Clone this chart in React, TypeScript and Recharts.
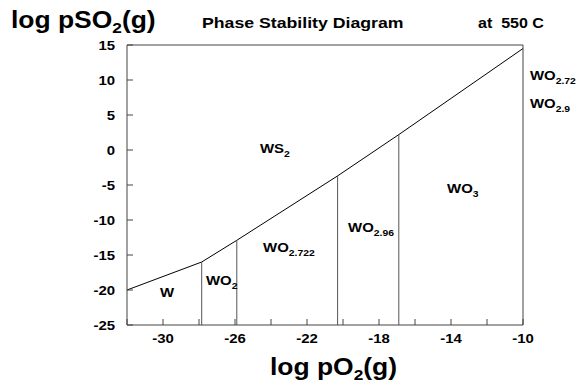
import React from 'react'
import { ComposedChart, Line, Scatter, XAxis, YAxis } from 'recharts'

const xMinorTicks = [-32, -30, -28, -26, -24, -22, -20, -18, -16, -14, -12, -10]
const xLabelTicks = [-30, -26, -22, -18, -14, -10]
const yTicks = [-25, -20, -15, -10, -5, 0, 5, 10, 15]

// WS2 / oxide boundary, the vertical oxide boundaries hang off the inner points
const boundaryX = [-32, -27.85, -25.9, -20.3, -16.9, -10]
const boundaryY = [-20, -16, -12.9, -3.7, 2.2, 14.5]

const fieldNames = ['W', 'WO', 'WO', 'WS', 'WO', 'WO']
const fieldSubs = ['', '2', '2.722', '2', '2.96', '3']
const fieldX = [-30.17, -27.61, -24.44, -24.61, -19.72, -14.22]
const fieldY = [-21.0, -19.29, -14.57, -0.43, -11.71, -6.14]

const sideNames = ['WO', 'WO']
const sideSubs = ['2.72', '2.9']
const sideY = [10, 6]

const FONT = "'Liberation Sans', Arial, Helvetica, sans-serif"
const AXIS = '#444'

const boundary = boundaryX.map((x, i) => ({ x, y: boundaryY[i] }))
const verticals = boundaryX.slice(1, -1).map((x, i) => [
  { x, y: -25 },
  { x, y: boundaryY[i + 1] },
])
const fields = fieldNames.map((name, i) => ({ x: fieldX[i], y: fieldY[i], name, sub: fieldSubs[i] }))
const sides = sideNames.map((name, i) => ({ x: -10, y: sideY[i], name, sub: sideSubs[i] }))

function Chem({ x, y, name, sub }: any) {
  return (
    <text
      transform={`translate(${x},${y}) scale(1.15,1)`}
      fontSize={13}
      fontWeight="bold"
      fontFamily={FONT}
      fill="#000"
    >
      {name}
      {sub && (
        <tspan fontSize={9} dy={4}>
          {sub}
        </tspan>
      )}
    </text>
  )
}

function BottomTick({ x, y, payload }: any) {
  const v = payload.value
  return (
    <g>
      <line x1={x} y1={y} x2={x} y2={y - 6} stroke={AXIS} />
      {xLabelTicks.includes(v) && (
        <text
          transform={`translate(${x},${y + 18}) scale(1.15,1)`}
          textAnchor="middle"
          fontSize={13}
          fontWeight="bold"
          fontFamily={FONT}
          fill="#000"
        >
          {v}
        </text>
      )}
    </g>
  )
}

function TopTick({ x, y }: any) {
  return <line x1={x} y1={y} x2={x} y2={y + 6} stroke={AXIS} />
}

function LeftTick({ x, y, payload }: any) {
  return (
    <g>
      <line x1={x} y1={y} x2={x + 6} y2={y} stroke={AXIS} />
      <text
        transform={`translate(${x - 12},${y + 4.5}) scale(1.15,1)`}
        textAnchor="end"
        fontSize={13}
        fontWeight="bold"
        fontFamily={FONT}
        fill="#000"
      >
        {payload.value}
      </text>
    </g>
  )
}

function RightTick({ x, y }: any) {
  return <line x1={x} y1={y} x2={x - 6} y2={y} stroke={AXIS} />
}

export default function App() {
  return (
    <div style={{ position: 'absolute', left: 0, top: 0, width: 577, height: 388 }}>
      <ComposedChart
        width={577}
        height={388}
        margin={{ top: 35, right: 34, bottom: 33, left: 87 }}
      >
        <XAxis
          xAxisId="b"
          type="number"
          dataKey="x"
          domain={[-32, -10]}
          ticks={xMinorTicks}
          interval={0}
          height={30}
          tickSize={0}
          tickMargin={0}
          tickLine={false}
          axisLine={{ stroke: AXIS }}
          tick={<BottomTick />}
        />
        <XAxis
          xAxisId="t"
          orientation="top"
          type="number"
          dataKey="x"
          domain={[-32, -10]}
          ticks={xMinorTicks}
          interval={0}
          height={10}
          tickSize={0}
          tickMargin={0}
          tickLine={false}
          axisLine={{ stroke: AXIS }}
          tick={<TopTick />}
        />
        <YAxis
          yAxisId="l"
          type="number"
          domain={[-25, 15]}
          ticks={yTicks}
          interval={0}
          width={40}
          tickSize={0}
          tickMargin={0}
          tickLine={false}
          axisLine={{ stroke: AXIS }}
          tick={<LeftTick />}
        />
        <YAxis
          yAxisId="r"
          orientation="right"
          type="number"
          domain={[-25, 15]}
          ticks={yTicks}
          interval={0}
          width={20}
          tickSize={0}
          tickMargin={0}
          tickLine={false}
          axisLine={{ stroke: AXIS }}
          tick={<RightTick />}
        />
        <Line
          xAxisId="b"
          yAxisId="l"
          data={boundary}
          dataKey="y"
          type="linear"
          stroke="#000"
          strokeWidth={1}
          dot={false}
          isAnimationActive={false}
        />
        {verticals.map((seg, i) => (
          <Line
            key={i}
            xAxisId="b"
            yAxisId="l"
            data={seg}
            dataKey="y"
            type="linear"
            stroke="#555"
            strokeWidth={1}
            dot={false}
            isAnimationActive={false}
          />
        ))}
        <Scatter
          xAxisId="b"
          yAxisId="l"
          data={fields}
          dataKey="y"
          isAnimationActive={false}
          shape={(p: any) => <Chem x={p.cx} y={p.cy} name={p.payload.name} sub={p.payload.sub} />}
        />
        <Scatter
          xAxisId="b"
          yAxisId="l"
          data={sides}
          dataKey="y"
          isAnimationActive={false}
          shape={(p: any) => <Chem x={p.cx + 7} y={p.cy} name={p.payload.name} sub={p.payload.sub} />}
        />
      </ComposedChart>
      <svg
        width={577}
        height={388}
        style={{ position: 'absolute', left: 0, top: 0, pointerEvents: 'none' }}
        fontFamily={FONT}
        fontWeight="bold"
        fill="#000"
      >
        <text transform="translate(11,28) scale(1.15,1)" fontSize={23}>
          log pSO<tspan fontSize={15} dy={5}>2</tspan>
          <tspan dy={-5}>(g)</tspan>
        </text>
        <text transform="translate(202,28) scale(1.18,1)" fontSize={15}>
          Phase Stability Diagram
        </text>
        <text transform="translate(478,28) scale(1.07,1)" fontSize={15} style={{ whiteSpace: 'pre' }}>
          {'at  550 C'}
        </text>
        <text transform="translate(270,375) scale(1.15,1)" fontSize={23}>
          log pO<tspan fontSize={15} dy={5}>2</tspan>
          <tspan dy={-5}>(g)</tspan>
        </text>
      </svg>
    </div>
  )
}
